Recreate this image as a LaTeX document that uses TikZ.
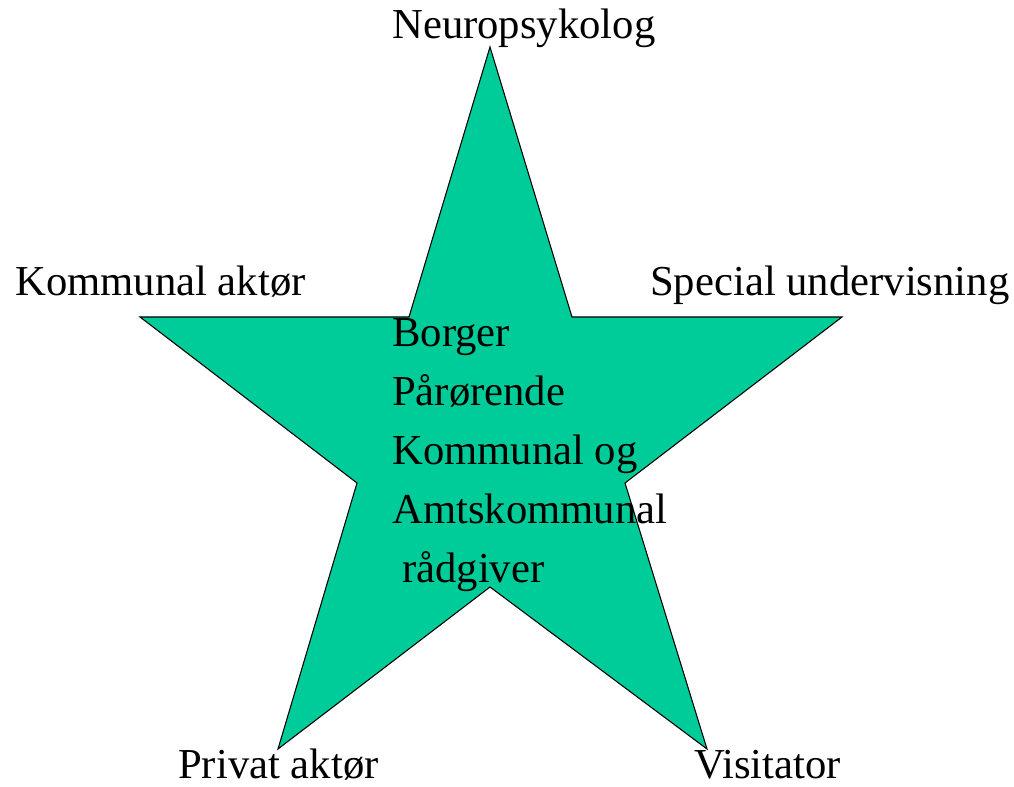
\documentclass[tikz,border=0pt]{standalone}
\usepackage{fontspec}
\setmainfont{Liberation Serif}
\definecolor{stargreen}{RGB}{0,204,153}
\tikzset{
  lbl/.style={anchor=base west, inner sep=0pt, font=\fontsize{32pt}{38pt}\selectfont},
  starshape/.style={fill=stargreen, draw=black, line width=0.8pt, line join=miter}
}
\begin{document}
\begin{tikzpicture}[x=0.75pt,y=-0.75pt]
\useasboundingbox (0,0) rectangle (1014,787);
\coordinate (t) at (490,47);
\coordinate (ir) at (572,317);
\coordinate (r) at (842,317);
\coordinate (ilr) at (625,483);
\coordinate (br) at (707,749);
\coordinate (ib) at (490,587);
\coordinate (bl) at (278,749);
\coordinate (ill) at (357,483);
\coordinate (l) at (140,317);
\coordinate (il) at (409,317);
\draw[starshape] (t) -- (ir) -- (r) -- (ilr) -- (br) -- (ib) -- (bl) -- (ill) -- (l) -- (il) -- cycle;
\node[lbl] (neuro) at (392,39) {Neuropsykolog};
\node[lbl] (komm) at (15,296) {Kommunal aktør};
\node[lbl] (spec) at (650,296) {Special undervisning};
\node[lbl] (priv) at (178,778) {Privat aktør};
\node[lbl] (visi) at (694,778) {Visitator};
\node[lbl] (l1) at (392,347) {Borger};
\node[lbl] (l2) at (392,406) {Pårørende};
\node[lbl] (l3) at (392,465) {Kommunal og};
\node[lbl] (l4) at (392,524) {Amtskommunal};
\node[lbl] (l5) at (402,582) {rådgiver};
\end{tikzpicture}
\end{document}
